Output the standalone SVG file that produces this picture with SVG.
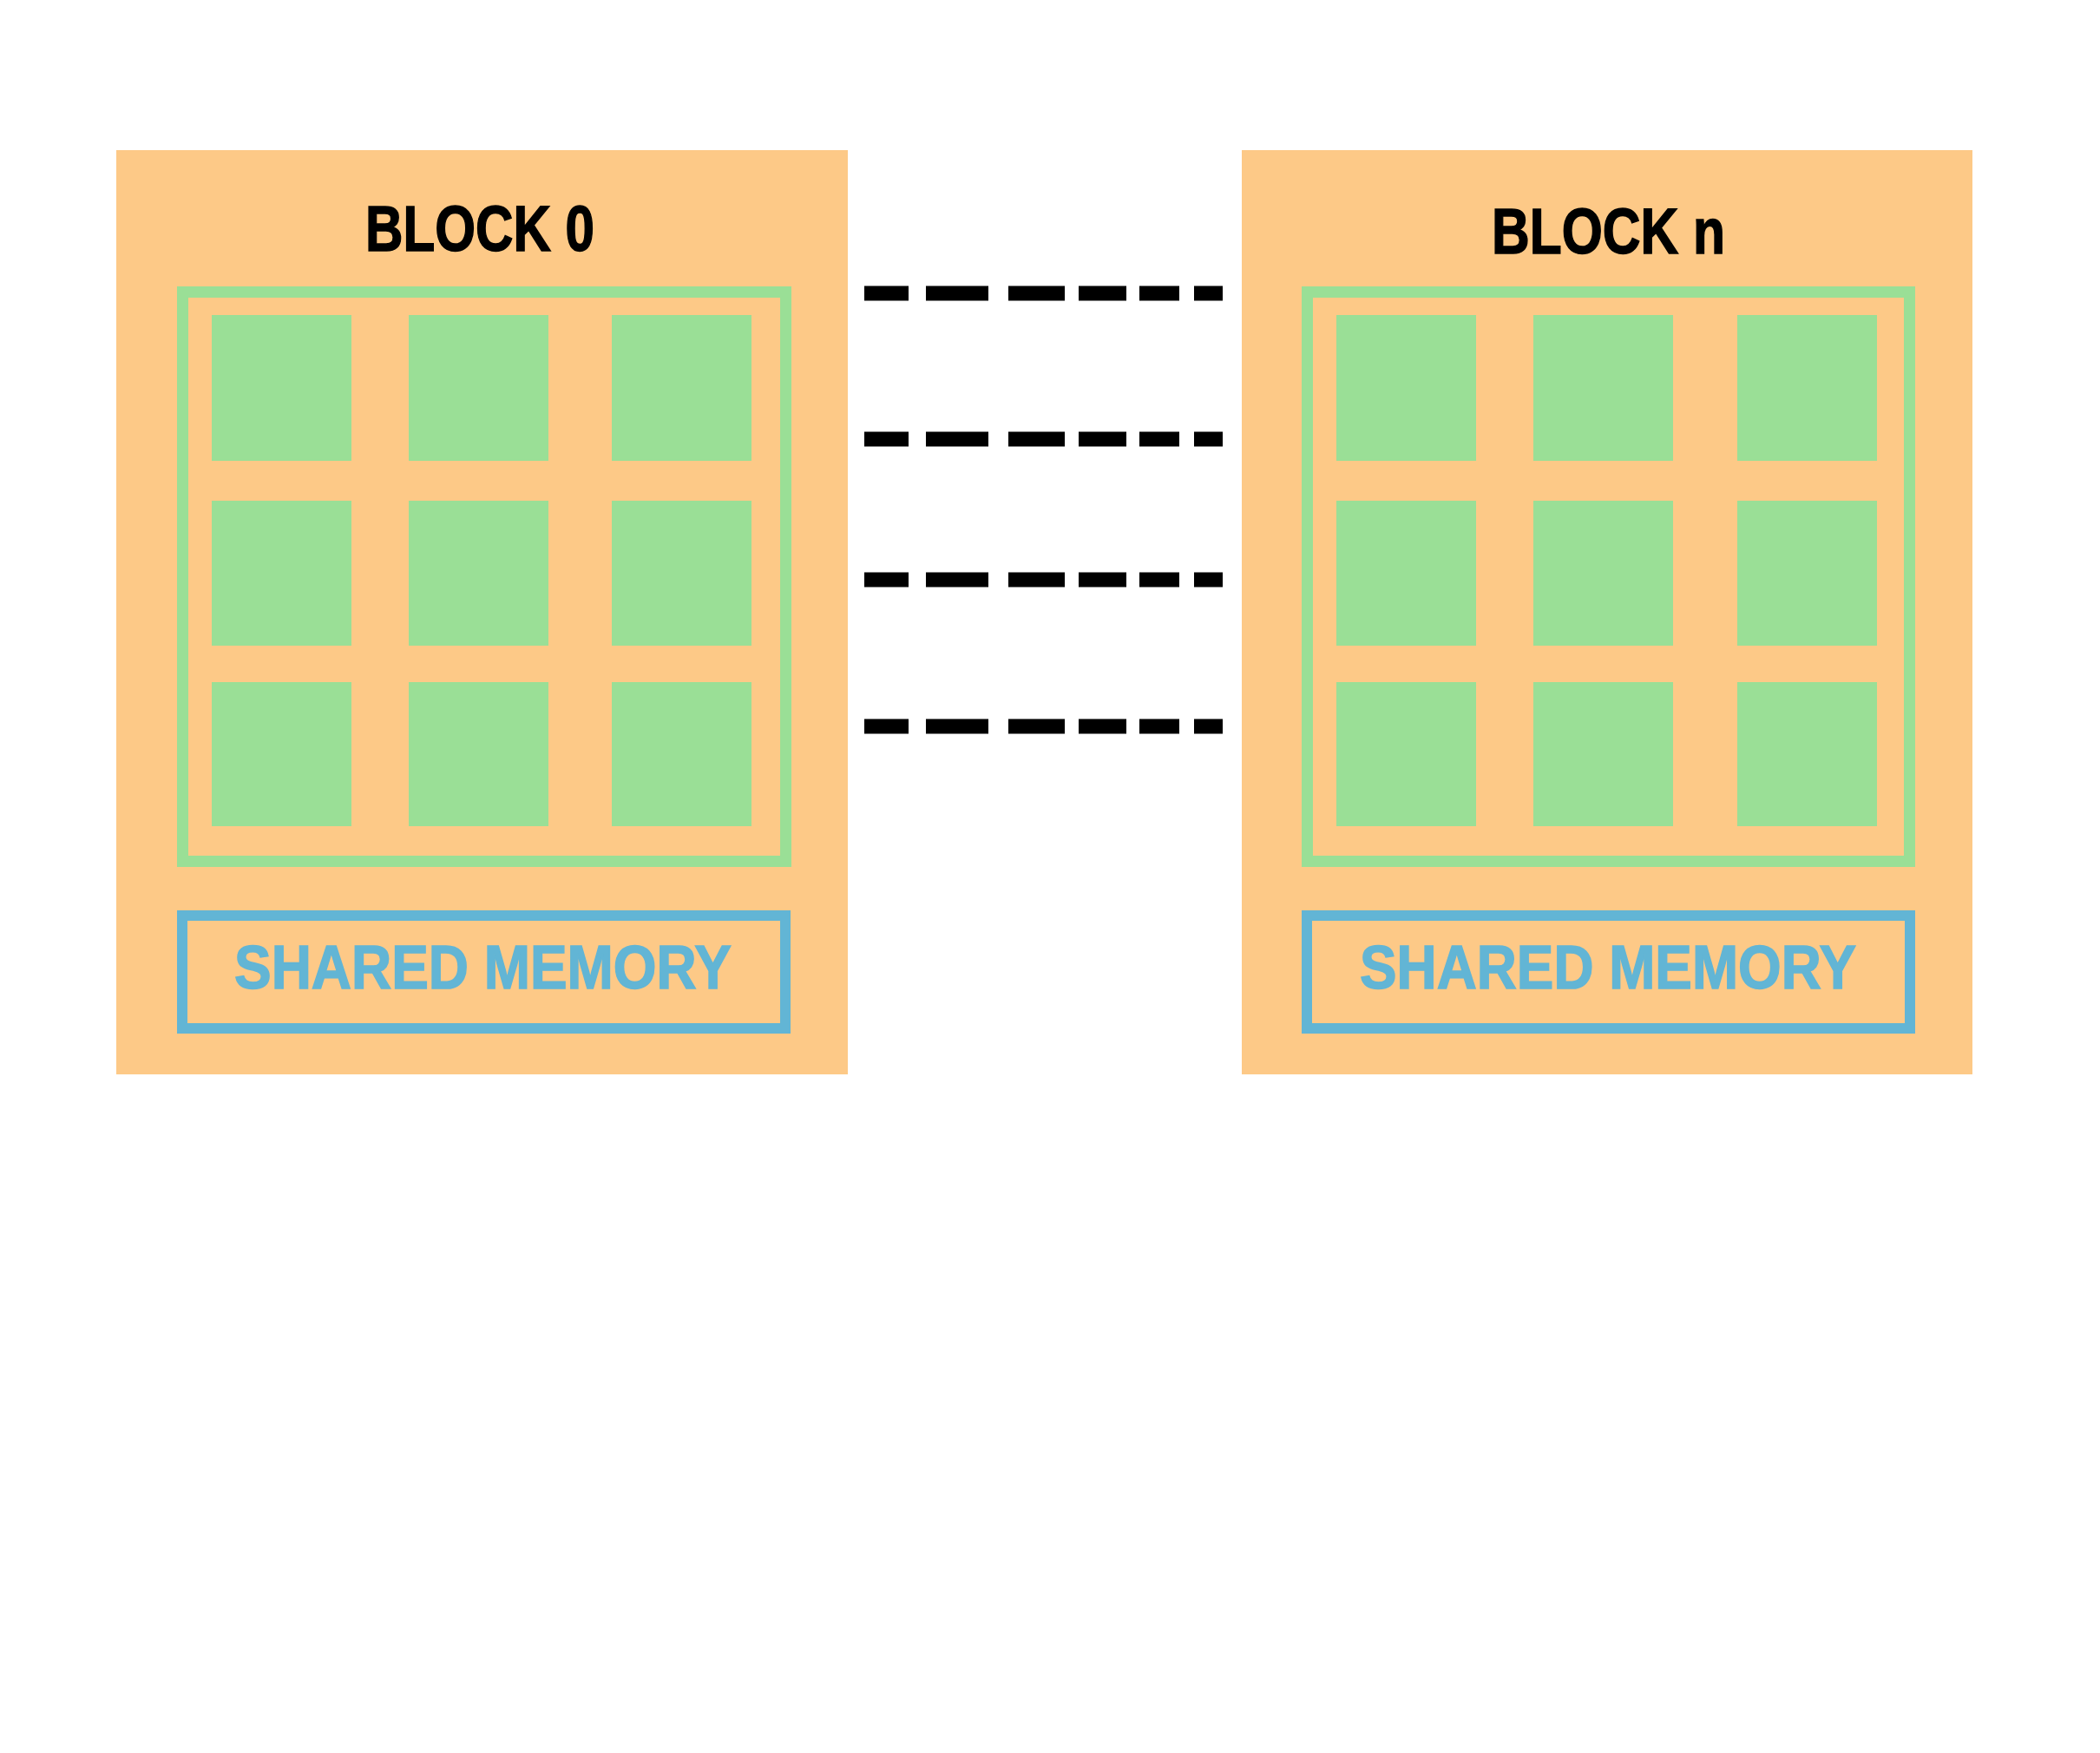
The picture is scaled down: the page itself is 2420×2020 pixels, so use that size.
<svg xmlns="http://www.w3.org/2000/svg" width="2420" height="2020" viewBox="0 0 2420 2020">
<style>
.blk{fill:#FDC987}
.frame{fill:none;stroke:#9ADF96;stroke-width:13}
.cell{fill:#9ADF96}
.mem{fill:none;stroke:#62B5D5;stroke-width:12}
.title{font-family:"Liberation Sans",Arial,sans-serif;font-weight:bold;font-size:74px;fill:#000;stroke:#000;stroke-width:1.5}
.memtxt{font-family:"Liberation Sans",Arial,sans-serif;font-weight:bold;font-size:71px;fill:#62B5D5;stroke:#62B5D5;stroke-width:1.5}
.dash{stroke:#000;stroke-width:17;fill:none}
</style>
<rect width="2420" height="2020" fill="#fff"/>
<g id="block0">
<rect class="blk" x="134" y="173" width="843" height="1065"/>
<text class="title" x="421" y="289" textLength="264" lengthAdjust="spacingAndGlyphs">BLOCK 0</text>
<rect class="frame" x="210.5" y="336.5" width="695" height="656"/>
<rect class="cell" x="244" y="363" width="161" height="168"/>
<rect class="cell" x="471" y="363" width="161" height="168"/>
<rect class="cell" x="705" y="363" width="161" height="168"/>
<rect class="cell" x="244" y="577" width="161" height="167"/>
<rect class="cell" x="471" y="577" width="161" height="167"/>
<rect class="cell" x="705" y="577" width="161" height="167"/>
<rect class="cell" x="244" y="786" width="161" height="166"/>
<rect class="cell" x="471" y="786" width="161" height="166"/>
<rect class="cell" x="705" y="786" width="161" height="166"/>
<g id="shared0">
<rect class="mem" x="210" y="1055" width="695" height="130"/>
<text class="memtxt" x="270" y="1139" textLength="573" lengthAdjust="spacingAndGlyphs">SHARED MEMORY</text>
</g>
</g>
<g id="blockn">
<rect class="blk" x="1431" y="173" width="842" height="1065"/>
<text class="title" x="1719" y="292" textLength="269" lengthAdjust="spacingAndGlyphs">BLOCK n</text>
<rect class="frame" x="1506.5" y="336.5" width="694" height="656"/>
<rect class="cell" x="1540" y="363" width="161" height="168"/>
<rect class="cell" x="1767" y="363" width="161" height="168"/>
<rect class="cell" x="2002" y="363" width="161" height="168"/>
<rect class="cell" x="1540" y="577" width="161" height="167"/>
<rect class="cell" x="1767" y="577" width="161" height="167"/>
<rect class="cell" x="2002" y="577" width="161" height="167"/>
<rect class="cell" x="1540" y="786" width="161" height="166"/>
<rect class="cell" x="1767" y="786" width="161" height="166"/>
<rect class="cell" x="2002" y="786" width="161" height="166"/>
<g id="sharedn">
<rect class="mem" x="1506" y="1055" width="695" height="130"/>
<text class="memtxt" x="1567" y="1139" textLength="572" lengthAdjust="spacingAndGlyphs">SHARED MEMORY</text>
</g>
</g>
<g id="connectors">
<path class="dash" d="M996 338H1047M1067 338H1139M1162 338H1227M1243 338H1298M1313 338H1359M1376 338H1409"/>
<path class="dash" d="M996 506H1047M1067 506H1139M1162 506H1227M1243 506H1298M1313 506H1359M1376 506H1409"/>
<path class="dash" d="M996 668H1047M1067 668H1139M1162 668H1227M1243 668H1298M1313 668H1359M1376 668H1409"/>
<path class="dash" d="M996 837H1047M1067 837H1139M1162 837H1227M1243 837H1298M1313 837H1359M1376 837H1409"/>
</g>
</svg>
